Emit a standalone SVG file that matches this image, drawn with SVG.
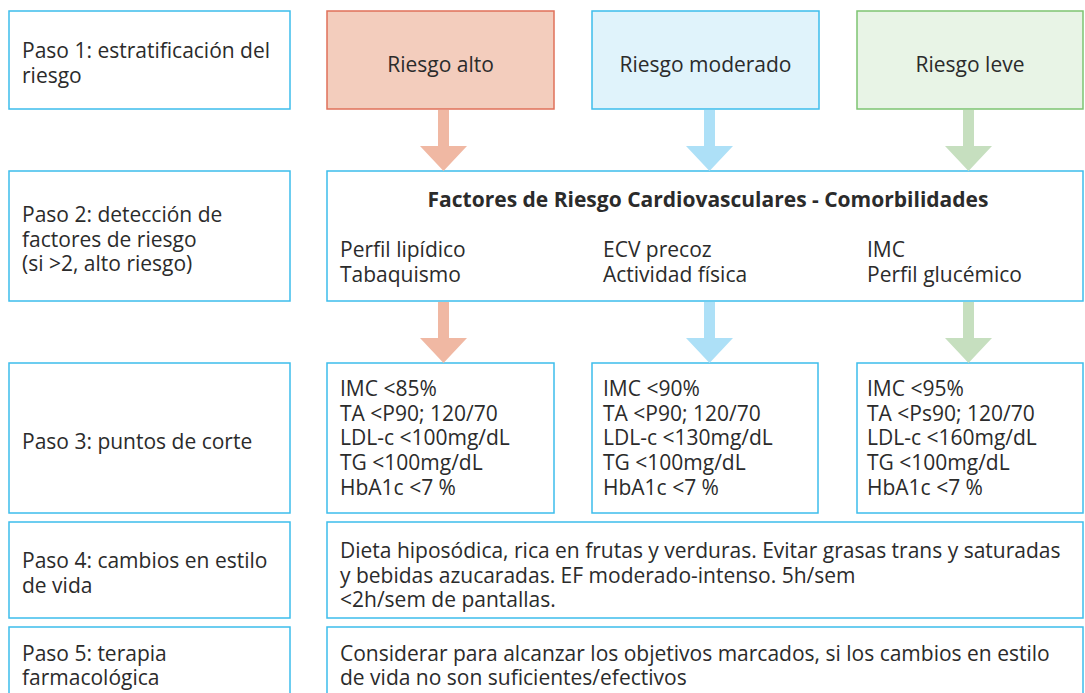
<svg xmlns="http://www.w3.org/2000/svg" width="1085" height="693" viewBox="0 0 1085 693">
<style>
.b{fill:#fff;stroke:#3dbdec;stroke-width:1.5}
.t{font-family:"Open Sans","Noto Sans",sans-serif;font-size:21px;fill:#2b2b2b}
.c{text-anchor:middle}
.h{font-weight:bold}
.ar{fill:#f0b8a3}.am{fill:#ade0f7}.ag{fill:#c6dfbf}
</style>
<rect width="1085" height="693" fill="#fff"/>
<g id="paso1"><rect class="b" x="9" y="11" width="281" height="98"/><text class="t" x="22" y="58">Paso 1: estratificación del</text><text class="t" x="22" y="83">riesgo</text></g>
<g id="alto"><rect x="327" y="11" width="227" height="98" fill="#f3cdbd" stroke="#e0705a" stroke-width="1.5"/><text class="t c" x="440.5" y="72">Riesgo alto</text></g>
<g id="moderado"><rect x="592" y="11" width="227" height="98" fill="#e0f3fb" stroke="#3dbdec" stroke-width="1.5"/><text class="t c" x="705.5" y="72">Riesgo moderado</text></g>
<g id="leve"><rect x="857" y="11" width="226" height="98" fill="#e8f4e6" stroke="#7dc472" stroke-width="1.5"/><text class="t c" x="970" y="72">Riesgo leve</text></g>
<g id="paso2"><rect class="b" x="9" y="171" width="281" height="130"/><text class="t" x="22" y="222">Paso 2: detección de</text><text class="t" x="22" y="247">factores de riesgo</text><text class="t" x="22" y="271">(si &gt;2, alto riesgo)</text></g>
<g id="factores"><rect class="b" x="327" y="171" width="756" height="130"/><text class="t c h" x="708" y="207">Factores de Riesgo Cardiovasculares - Comorbilidades</text>
<text class="t" x="340" y="257">Perfil lipídico</text><text class="t" x="340" y="282">Tabaquismo</text>
<text class="t" x="603" y="257">ECV precoz</text><text class="t" x="603" y="282">Actividad física</text>
<text class="t" x="867" y="257">IMC</text><text class="t" x="867" y="282">Perfil glucémico</text></g>
<g id="paso3"><rect class="b" x="9" y="363" width="281" height="150"/><text class="t" x="22" y="449">Paso 3: puntos de corte</text></g>
<g id="corte-alto"><rect class="b" x="327" y="363" width="227" height="150"/><text class="t" x="340" y="396">IMC &lt;85%</text><text class="t" x="340" y="421">TA &lt;P90; 120/70</text><text class="t" x="340" y="445">LDL-c &lt;100mg/dL</text><text class="t" x="340" y="470">TG &lt;100mg/dL</text><text class="t" x="340" y="495">HbA1c &lt;7 %</text></g>
<g id="corte-moderado"><rect class="b" x="592" y="363" width="226" height="150"/><text class="t" x="603" y="396">IMC &lt;90%</text><text class="t" x="603" y="421">TA &lt;P90; 120/70</text><text class="t" x="603" y="445">LDL-c &lt;130mg/dL</text><text class="t" x="603" y="470">TG &lt;100mg/dL</text><text class="t" x="603" y="495">HbA1c &lt;7 %</text></g>
<g id="corte-leve"><rect class="b" x="857" y="363" width="226" height="150"/><text class="t" x="867" y="396">IMC &lt;95%</text><text class="t" x="867" y="421">TA &lt;Ps90; 120/70</text><text class="t" x="867" y="445">LDL-c &lt;160mg/dL</text><text class="t" x="867" y="470">TG &lt;100mg/dL</text><text class="t" x="867" y="495">HbA1c &lt;7 %</text></g>
<g id="paso4"><rect class="b" x="9" y="522" width="281" height="96"/><text class="t" x="22" y="568">Paso 4: cambios en estilo</text><text class="t" x="22" y="593">de vida</text></g>
<g id="estilo"><rect class="b" x="327" y="522" width="756" height="96"/><text class="t" x="340" y="558">Dieta hiposódica, rica en frutas y verduras. Evitar grasas trans y saturadas</text><text class="t" x="340" y="583">y bebidas azucaradas. EF moderado-intenso. 5h/sem</text><text class="t" x="340" y="607">&lt;2h/sem de pantallas.</text></g>
<g id="paso5"><rect class="b" x="9" y="627" width="281" height="80"/><text class="t" x="22" y="661">Paso 5: terapia</text><text class="t" x="22" y="685">farmacológica</text></g>
<g id="terapia"><rect class="b" x="327" y="627" width="756" height="80"/><text class="t" x="340" y="661">Considerar para alcanzar los objetivos marcados, si los cambios en estilo</text><text class="t" x="340" y="685">de vida no son suficientes/efectivos</text></g>
<g id="connectors">
<path class="ar" d="M438 110H449V146H467L443.5 171L420 146H438Z"/>
<path class="am" d="M704 110H715V146H733L709.5 171L686 146H704Z"/>
<path class="ag" d="M963 110H974V146H992L968.5 171L945 146H963Z"/>
<path class="ar" d="M438 302H449V338H467L443.5 363L420 338H438Z"/>
<path class="am" d="M704 302H715V338H733L709.5 363L686 338H704Z"/>
<path class="ag" d="M963 302H974V338H992L968.5 363L945 338H963Z"/>
</g>
</svg>
